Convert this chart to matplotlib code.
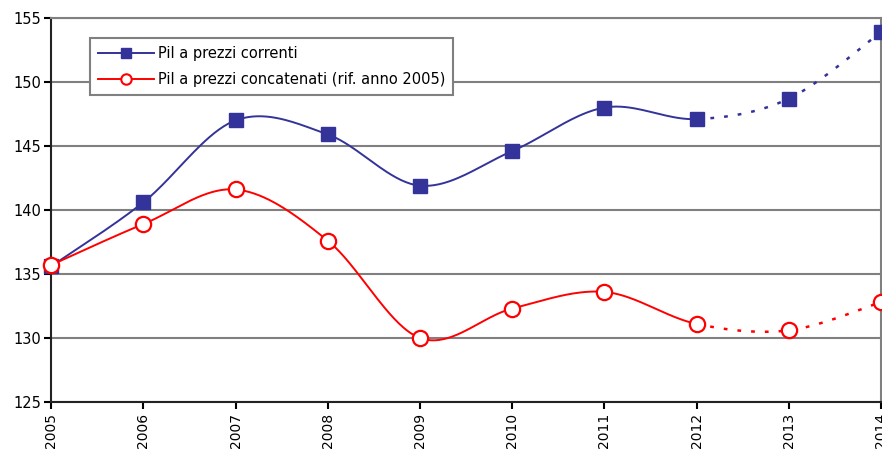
import numpy as np
import matplotlib
matplotlib.use('Agg')
import matplotlib.pyplot as plt

# Data
years = [2005, 2006, 2007, 2008, 2009, 2010, 2011, 2012, 2013, 2014]
correnti = [135.6, 140.6, 147.0, 145.9, 141.9, 144.6, 148.0, 147.1, 148.7, 153.9]
concatenati = [135.7, 138.9, 141.6, 137.6, 130.0, 132.3, 133.6, 131.1, 130.6, 132.8]
last_actual = 2012

blue = '#333399'
red = '#FF0000'


def smooth(xs, ys, n=40):
    # Excel-like smoothed line (Catmull-Rom via cubic Bezier)
    xs = np.asarray(xs, float)
    ys = np.asarray(ys, float)
    px, py = [], []
    for i in range(len(xs) - 1):
        x0, y0 = (xs[i - 1], ys[i - 1]) if i > 0 else (xs[i], ys[i])
        x3, y3 = (xs[i + 2], ys[i + 2]) if i + 2 < len(xs) else (xs[i + 1], ys[i + 1])
        c1x = xs[i] + (xs[i + 1] - x0) / 6
        c1y = ys[i] + (ys[i + 1] - y0) / 6
        c2x = xs[i + 1] - (x3 - xs[i]) / 6
        c2y = ys[i + 1] - (y3 - ys[i]) / 6
        t = np.linspace(0, 1, n)
        bx = (1 - t)**3 * xs[i] + 3 * (1 - t)**2 * t * c1x + 3 * (1 - t) * t**2 * c2x + t**3 * xs[i + 1]
        by = (1 - t)**3 * ys[i] + 3 * (1 - t)**2 * t * c1y + 3 * (1 - t) * t**2 * c2y + t**3 * ys[i + 1]
        px.append(bx)
        py.append(by)
    return np.concatenate(px), np.concatenate(py)


plt.rcParams['font.family'] = 'DejaVu Sans'
fig = plt.figure(figsize=(8.82, 4.54), dpi=100)
ax = fig.add_axes([0.058, 0.1145, 0.941, 0.846])

for vals, col in [(correnti, blue), (concatenati, red)]:
    sx, sy = smooth(years, vals)
    solid = sx <= last_actual + 1e-9
    ax.plot(sx[solid], sy[solid], color=col, lw=1.4, zorder=3)
    dashed = sx >= last_actual - 1e-9
    ax.plot(sx[dashed], sy[dashed], color=col, lw=1.8, ls=(0, (1.5, 4)), zorder=3)

ax.plot(years, correnti, ls='none', marker='s', ms=10.5, color=blue, zorder=4, clip_on=False)
ax.plot(years, concatenati, ls='none', marker='o', ms=11, mfc='white', mec=red, mew=1.6,
        zorder=4, clip_on=False)

# legend handles
h1, = ax.plot([], [], color=blue, lw=1.4, marker='s', ms=7.5, label='Pil a prezzi correnti')
h2, = ax.plot([], [], color=red, lw=1.4, marker='o', ms=7.5, mfc='white', mew=1.5,
              label='Pil a prezzi concatenati (rif. anno 2005)')
leg = ax.legend(handles=[h1, h2], loc='upper left', bbox_to_anchor=(0.047, 0.948),
                fontsize=10.5, fancybox=False, framealpha=1, edgecolor='#808080',
                handlelength=3.8, handletextpad=0.3, borderpad=0.55, labelspacing=0.75,
                borderaxespad=0)
leg.get_frame().set_linewidth(1.5)
leg.set_zorder(5)

ax.set_xlim(2005, 2014)
ax.set_ylim(125, 155)
ax.set_yticks(range(125, 156, 5))
ax.set_xticks(years)
ax.set_xticklabels([str(y) for y in years], rotation=90, fontsize=10)
ax.tick_params(axis='y', labelsize=10.5, length=5, width=1.5, direction='out', pad=2)
ax.tick_params(axis='x', length=5, width=1.5, direction='out', pad=3)
ax.yaxis.grid(True, color='#808080', lw=1.5)
ax.set_axisbelow(True)
for s in ['left', 'bottom']:
    ax.spines[s].set_color('#222222')
    ax.spines[s].set_linewidth(1.5)
for s in ['top', 'right']:
    ax.spines[s].set_color('#808080')
    ax.spines[s].set_linewidth(1.5)

fig.savefig('out.png', dpi=100)
